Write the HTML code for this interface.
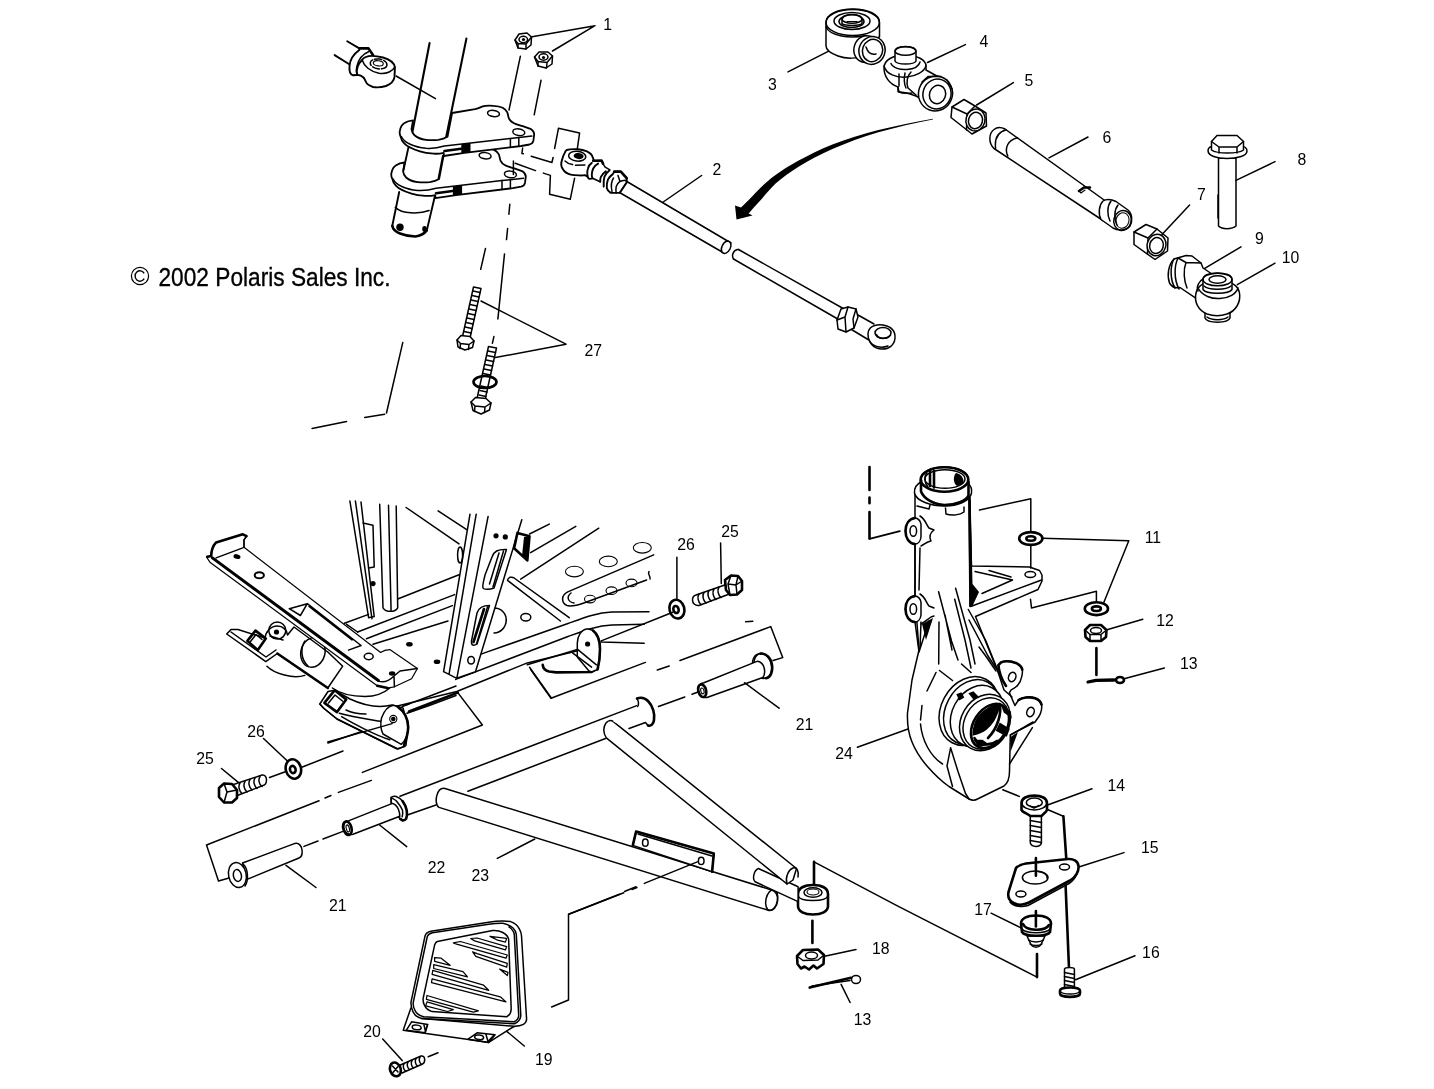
<!DOCTYPE html>
<html><head><meta charset="utf-8"><title>Parts diagram</title>
<style>
html,body{margin:0;padding:0;background:#fff;}
body{width:1434px;height:1089px;overflow:hidden;font-family:"Liberation Sans",sans-serif;}
svg{display:block;filter:grayscale(1)}
.l,.lw,.k,.kw,.d{stroke:#000;stroke-width:1.5;stroke-linecap:round;stroke-linejoin:round}
.l,.k,.d{fill:none}
.lw,.kw{fill:#fff}
.k,.kw{stroke-width:2.6}
.n{stroke:#000;stroke-width:1.1;fill:none;stroke-linecap:round}
.b{fill:#000;stroke:none}
text{font-family:"Liberation Sans",sans-serif;font-size:15.8px;fill:#000}
</style></head><body>
<svg width="1434" height="1089" viewBox="0 0 1434 1089">
<rect width="1434" height="1089" fill="#fff"/>
<g id="post">
<!-- rod end upper-left -->
<path class="l" style="stroke-width:1.9" d="M347.200,41.300 L359.300,48.400 M334.600,55.100 L349.300,64.300"/>
<path class="lw" d="M359.300,49.500 C353,54 350,60 349.500,66 C349,72 350,75 353,75.300 L357,75 L366,80 L374,55 L368.500,48.400Z" style="stroke:none"/>
<path class="l" style="stroke-width:1.9" d="M359.300,50 C353,54.500 350,60 349.500,66 C349,72 350,74.500 353,75.300 L357.200,75"/>
<path class="k" d="M359.300,48.400 L368.500,48.400 L373,55"/>
<path class="l" d="M368.500,51.800 C362,54.500 358.500,60 357,66 C356,70 356.400,73 357.200,74.600"/>
<path class="lw" d="M362,60 C366,54 375,55.500 383,57.500 C390,59.500 394.500,63 394.900,67.500 L394.500,76.900 C394,81 391,84 386,86 C381,87.500 376,87.500 373,87 C369,85.500 366.500,83.500 366,82 C365,80 364.500,78.600 363.500,77.500 C362,76 360,75 357.200,74.800 C356,70 358,64 362,60Z" style="stroke-width:1.9"/>
<path class="l" d="M362.300,60.200 C364,66 370,71.500 379,73.200 C387,74.200 393,71 394.900,66.800"/>
<ellipse class="l" cx="378.600" cy="63.900" rx="8.400" ry="4.900" transform="rotate(8 378.600 63.900)" stroke-dasharray="7 2"/>
<ellipse class="n" cx="378.300" cy="63.300" rx="5" ry="2.600" transform="rotate(8 378.300 63.300)"/>
<path class="l" d="M396.100,76 L435.500,98.600"/>
<!-- tube -->
<path class="l" style="stroke-width:2.100" d="M429.600,43 L412,134 M466.400,38.600 L446,138"/>
<!-- lower plate -->
<path class="lw" style="stroke-width:1.8" d="M443.7,155.2 L466.7,151.4 C470.6,150.5 472.6,149.2 474.4,148.6 C477.6,147.5 481.6,147.7 485.1,148.0 C488.6,148.2 491.6,148.7 494.3,149.9 C496.6,151.2 498.1,152.7 498.9,154.5 C499.6,156.2 499.6,158.2 500.5,160.6 C501.6,163.2 503.1,164.2 505.1,165.2 C507.6,166.7 510.6,167.2 514.3,168.3 L522.7,171.4 C524.6,172.7 525.8,174.2 525.8,176.7 L525.0,182.9 C524.6,185.2 523.1,186.2 521.2,186.7 L512.7,188.2 L456.0,195.1 L435.3,198.2 L435.3,195.1 C431.6,195.9 428.6,196.1 425.3,195.9 C419.6,195.5 415.6,194.9 411.5,193.6 C403.6,191.2 398.6,188.7 396.1,185.9 C393.6,183.2 392.6,181.2 392.3,179.0 C391.1,176.2 390.9,174.7 391.5,172.9 C392.1,169.2 393.6,166.7 396.1,165.2 C398.6,163.5 401.6,162.7 404.6,162.5 L403.1,171.4 C403.4,174.2 404.6,176.2 406.1,177.5 C409.1,180.2 412.6,181.5 417.6,182.1 C421.6,182.5 425.6,182.5 429.9,182.1 C433.6,181.5 436.6,180.5 439.1,179.0Z"/>
<path class="l" d="M393.1,179.0 C394.6,182.2 397.6,184.7 402.3,186.7 C406.6,188.7 411.6,189.9 417.6,190.5 C423.6,190.9 429.6,190.2 436.0,188.2 L502.0,180.6 L523.5,178.3"/>
<ellipse class="l" cx="485.1" cy="155.7" rx="6" ry="3.1" transform="rotate(8 485.1 155.7)"/>
<ellipse class="l" cx="510.4" cy="174.4" rx="6" ry="3.300" transform="rotate(8 510.4 174.4)"/>
<path class="l" d="M502.0,180.6 L502.0,189.4 M510.4,179.7 L510.4,188.4"/>
<path class="b" d="M452.9,186.4 L462.1,185.2 L462.1,194.2 L452.9,195.5Z"/>
<path class="k" d="M436.0,193.2 L452.6,191.0"/>
<!-- tube between plates -->
<path class="l" style="stroke-width:1.9" d="M408.400,147.600 L403.500,170 M442.900,156 L438.500,178.500"/>
<!-- upper plate -->
<path class="lw" style="stroke-width:1.8" d="M452.1,113.0 L475.1,109.2 C479.0,108.3 481.0,107.0 482.8,106.4 C486.0,105.3 490.0,105.5 493.5,105.8 C497.0,106.0 500.0,106.5 502.7,107.7 C505.0,109.0 506.5,110.5 507.3,112.3 C508.0,114.0 508.0,116.0 508.9,118.4 C510.0,121.0 511.5,122.0 513.5,123.0 C516.0,124.5 519.0,125.0 522.7,126.1 L531.1,129.2 C533.0,130.5 534.2,132.0 534.2,134.5 L533.4,140.7 C533.0,143.0 531.5,144.0 529.6,144.5 L521.1,146.0 L464.4,152.9 L443.7,156.0 L443.7,152.9 C440.0,153.7 437.0,153.9 433.7,153.7 C428.0,153.3 424.0,152.7 419.9,151.4 C412.0,149.0 407.0,146.5 404.5,143.7 C402.0,141.0 401.0,139.0 400.7,136.8 C399.5,134.0 399.3,132.5 399.9,130.7 C400.5,127.0 402.0,124.5 404.5,123.0 C407.0,121.3 410.0,120.5 413.0,120.3 L411.5,129.2 C411.8,132.0 413.0,134.0 414.5,135.3 C417.5,138.0 421.0,139.3 426.0,139.9 C430.0,140.3 434.0,140.3 438.3,139.9 C442.0,139.3 445.0,138.3 447.5,136.8Z"/>
<path class="l" d="M401.5,136.8 C403.0,140.0 406.0,142.5 410.7,144.5 C415.0,146.5 420.0,147.7 426.0,148.3 C432.0,148.7 438.0,148.0 444.4,146.0 L510.4,138.4 L531.9,136.1"/>
<ellipse class="l" cx="493.5" cy="113.5" rx="6" ry="3.1" transform="rotate(8 493.5 113.5)"/>
<ellipse class="l" cx="518.8" cy="132.2" rx="6" ry="3.300" transform="rotate(8 518.8 132.2)"/>
<path class="l" d="M510.4,138.4 L510.4,147.2 M518.8,137.5 L518.8,146.2"/>
<path class="b" d="M461.3,144.2 L470.5,143.0 L470.5,152.0 L461.3,153.3Z"/>
<path class="k" d="M444.4,151.0 L461.0,148.8"/>
<!-- bottom tube -->
<path class="l" style="stroke-width:1.9" d="M399.200,192 L392.300,225.800 M434.800,196.500 L426.800,230.400"/>
<path class="l" d="M395.300,207.400 C399,211 405,212.500 410.700,212.800 C418,213.200 424,212.500 429.100,210.500"/>
<path class="k" d="M392.300,225.800 C393,230 396,232 400,233.500 C405,235.500 410,236.500 415.300,236.500 C420,236 424,234 426.800,230.400"/>
<circle class="b" cx="400" cy="227.300" r="3.700"/>
<ellipse class="b" cx="424.500" cy="228.900" rx="2.300" ry="3"/>
<!-- nuts 1 -->
<path class="lw" d="M515,40 L519,34 L527,33 L531.5,37 L531,45 L526,49 L518,48Z"/>
<ellipse class="l" cx="523.3" cy="39.5" rx="4.3" ry="3.2"/>
<circle class="b" cx="523.5" cy="39.5" r="1.6"/>
<path class="l" d="M515,40 L518,43.5 L526,44 L531.5,37 M518,43.5 L518,48 M526,44 L526,49"/>
<path class="lw" d="M534.5,57 L539,52 L548,52 L552.5,56 L552,64 L546,68 L538,66Z"/>
<ellipse class="l" cx="543.5" cy="57" rx="4.5" ry="3.2"/>
<circle class="b" cx="543.5" cy="57.5" r="1.6"/>
<path class="l" d="M534.5,57 L538,61.5 L547,62.5 L552.5,56 M538,61.5 L538,66 M547,62.5 L546.5,68"/>
<path class="l" d="M595,25.7 L532,36.7 M595,25.7 L552.5,51"/>
<!-- dashes -->
<path class="l" d="M520.4,56.2 L509,110 M541,80.3 L534.2,114.8"/>
<path class="l" d="M509.800,204.300 L508.900,214.200 M507.600,228.600 L506.500,239.600 M504.500,253.900 L497.900,318.900 M485.500,248.400 L480.700,269.300 M493.900,336.600 L492.400,343.200"/>
<!-- dashed box -->
<path class="l" d="M554.600,148.500 L558.500,128.200 L579.600,132.900 L577.300,148.900 M543.300,173.100 L550.400,175.400 L549.600,194.200 L570.300,199.200 L574.600,178.200 M522.600,148.100 L521.900,153.600 L523.400,153.700 M531.200,156.300 L551.900,162.500 L553.100,157.500 M513.400,161 L513.400,174.600 M515.200,163.300 L535.500,170.600"/>
</g>
<g id="rod2">
<!-- left eye -->
<path class="lw" style="stroke-width:1.9" d="M566.700,150 C570,149 574,149 577.900,149.300 C581,149.600 584,150.300 587,151.400 C589,152.500 590.800,153.800 591.800,155.200 L594,160.500 L588,176.800 L584.900,175.100 C583,175.400 581,175.500 579.300,175.400 C576,175.300 573,175.200 570.900,174.700 C567,173.500 565,172.200 563.900,170.600 C562,168.500 561.300,167 561.200,165 C561.200,163 561.500,161 562.200,159.400 C563,156 563.800,154.500 564.600,153.100 C565.200,151.500 565.800,150.500 566.700,150Z"/>
<ellipse class="l" cx="577.200" cy="156.200" rx="8.600" ry="4.900" transform="rotate(6 577.200 156.200)"/>
<ellipse class="b" cx="578.600" cy="156" rx="5" ry="3.100" transform="rotate(6 578.600 156)"/>
<path class="l" d="M565,161 C567,163 570,164.300 572.500,164.600 M575.500,165.300 L584.900,165"/>
<!-- collar -->
<path fill="#fff" d="M593.200,160.800 L601.600,160.500 L605.100,167.100 L610,169.900 L603.700,186.600 L592.500,178.200 L589,178.900 C587,176 587,171 588,168.500Z"/>
<path class="k" d="M593.200,160.800 L601.600,160.500 L603,163.600"/>
<path class="l" style="stroke-width:1.900" d="M591.800,162.900 C589.500,164.500 588.300,166.500 588,168.500 C587.200,170.500 587.100,172.500 587.300,174.100 C587.500,176.500 588,178 589,178.900 L591.800,178.600"/>
<path class="l" style="stroke-width:1.900" d="M598.100,163.600 C595.500,165 594,166.800 593.200,168.500 C592.300,170.500 591.800,172.800 591.800,174.700 C591.800,176.300 592,177.500 592.500,178.200"/>
<path class="l" d="M603,163.600 L605.100,167.100 L610,169.900 M592.500,178.200 L600.200,181.700"/>
<path class="l" style="stroke-width:1.900" d="M605.800,171.300 C603.500,173 601.800,175 600.900,176.800 C600.300,178.500 600.100,180.300 600.200,181.700 M609.300,170.600 C607,172.500 605.300,174.800 604.400,176.800 C603.600,180 603.500,183.500 603.700,186.600"/>
<!-- jam nut -->
<path class="lw" style="stroke-width:1.900" d="M612.800,174.100 L614.200,171.600 L620.800,171.600 L626.700,178.200 L626.700,182.400 L619.700,192.900 L616.200,192.900 L610.700,192.900 C608.500,191.500 607.200,189.800 606.800,188 C606.600,185 607,182 607.900,179.600 C609,177.300 610.800,175.500 612.800,174.100Z"/>
<path class="k" d="M614.200,171.600 L620.800,171.600 L626.700,178.200"/>
<path class="l" d="M625.300,180.300 C623,180.500 621,181 619.700,181.700 C618,183 616.800,184.700 616.200,186.600 C615.800,188.700 615.900,191 616.200,192.900 M613.500,178 C611.500,181 610.800,186 612,191.500 M618,175.500 L620,181.500"/>
<!-- rod -->
<path class="l" d="M626,181 L731,243 M619.5,192.5 L723,252.5"/>
<path class="lw" d="M727,241 C731,241 732,245 730,249 C728,253 724,255 722,252 C720,249 723,242 727,241Z"/>
<path class="l" d="M738.5,249.5 L845,309.5 M733.5,259 L839.5,320"/>
<path class="l" d="M738.5,249.5 C734,249 731,255 733.5,259"/>
<!-- right nut -->
<path class="lw" d="M841,309 L848,307 L856,309 L858,317 L854,328 L846,332 L838,329 L837,320Z"/>
<path class="l" d="M848,307 L845,317 L846,332 M845,317 L837,320 M856,309 L853,319 L854,328"/>
<path class="l" d="M858,315 L874,324 M851.5,329.5 L868,339.5"/>
<!-- right eye -->
<path class="lw" d="M868,334 C868,327 875,323.5 883,325 C891,326.5 895.5,331 895,338 C894.5,345 889,349.5 881,349 C873,348.5 868,342 868,334Z"/>
<ellipse class="l" cx="883" cy="333" rx="8" ry="5.5"/>
<path class="l" d="M876.5,334.5 C878,339 887,340 890.5,335"/>
<path class="l" d="M869,340 C872,346 880,349 888,346"/>
<!-- leader 2 -->
<path class="l" d="M701.6,175.5 L663.2,202"/>
</g>
<g id="arrow">
<path class="b" d="M932.900,118.800 C915,122 896,126 878.400,129.900 C862,134 847,139 832.400,144.500 C820,149.500 809,155 798.600,160.600 C789,166 781,171 774.100,176 C765,183 758,190 752.600,195.900 C747,201.500 743,205.500 740.300,208.200 L748,214.300 C752,209.500 756,205 760.300,200.500 C765,195 770,189 775.600,183.600 C783,177.500 790,172 798.600,166.800 C809,160.500 820,154.500 832.400,149.100 C847,142.500 862,137 878.400,132.200 C896,127.500 915,123 932.900,119.600Z"/>
<path class="b" d="M735,205.500 L736.500,219.500 L752.500,215.500 L745,211.500 L741,207.500Z"/>
</g>
<g id="bolts27">
<path class="l" d="M566,344.2 L481,301 M566,344.2 L495.5,357.5"/>
<path class="lw" d="M473.5,287 L481,288.5 L470,338 L462.5,336.5Z"/>
<path class="l" d="M473,291 L480,292.5 M472,295.5 L479,297 M471,300 L478,301.5 M470,304.5 L477,306 M469,309 L476,310.5 M468,313.5 L475,315 M467,318 L474,319.5 M466,322.5 L473,324 M465,327 L472,328.5 M464,331.5 L471,333"/>
<path class="lw" d="M457,340 L461,335.5 L470,336.5 L474,341 L472.5,347.5 L465,350 L458,347Z"/>
<path class="l" d="M457,340 L460.5,343.5 L469,344.5 L474,341 M460.5,343.5 L460,348.5 M469,344.5 L468.5,349.5"/>
<path class="lw" d="M488.5,346.5 L496.5,348 L485,400 L477,398.5Z"/>
<path class="l" d="M488,351 L495.5,352.5 M487,355.5 L494.5,357 M486,360 L493.5,361.5 M485,364.5 L492.5,366 M484,369 L491.5,370.5 M483,373.5 L490.500,375 M481,386 L488,387.5 M480,390.500 L487,392 M479,395 L486,396.500"/>
<ellipse class="k" cx="485" cy="382" rx="11.500" ry="6"/>
<path class="lw" d="M471,402 L475.500,397.500 L486,398.500 L491,403 L489.500,410 L481,414 L473,410.500Z"/>
<path class="l" d="M471,402 L475,406 L485,407 L491,403 M475,406 L474.500,411.500 M485,407 L484.500,412.500"/>
</g>
<g id="dashes-left">
<path class="l" d="M402.800,342.400 L386.500,413 M384.700,414.200 L364.700,417.500 M346.600,421.500 L312.100,428.400"/>
</g>
<g id="p3">
<path class="lw" d="M826,22.500 C826,14 838,9 853,9 C868,9 879.500,14.500 879.500,22.500 L879.500,37 L865,42 L864,55 C858,59 846,59 838,56 C830,53 826,50 826,46Z"/>
<ellipse class="l" cx="852.700" cy="22.500" rx="26.700" ry="13"/>
<path class="l" d="M826,27 C830,36 850,39 866,35.500"/>
<ellipse class="l" cx="852" cy="21" rx="18" ry="8.500"/>
<ellipse class="l" cx="851.500" cy="21.500" rx="12.500" ry="6"/>
<path class="lw" d="M842,20 C842,16 847,14.500 852,14.500 C857,14.500 862,16 862,20 L862,23.500 C860,26 844,26 842,23.500Z"/>
<ellipse class="l" cx="852" cy="19" rx="10" ry="4.300"/>
<path class="n" d="M847,21.500 L857,21.500"/>
<ellipse class="lw" cx="866" cy="49" rx="12" ry="13.500" transform="rotate(20 866 49)"/>
<ellipse class="lw" cx="872" cy="50.500" rx="13" ry="14" transform="rotate(20 872 50.500)"/>
<ellipse class="l" cx="872.500" cy="50.500" rx="10" ry="11.300" transform="rotate(20 872.500 50.500)"/>
<path class="l" d="M866,47 C868,53 872,55 876,54"/>
<path class="l" d="M788,71.900 L828.200,51.300"/>
</g>
<g id="p4">
<path class="lw" d="M884,68 C884,60 893,55 905,55 C917,55 926,60 926,66 L926,70 L944,80 L934,106 L916,96 C910,94 905,92 899,92 L898,87 C889,84 884,76 884,68Z"/>
<path class="l" d="M884,66 C886,74 896,78 907,77 C916,76 924,72 926,66"/>
<path class="l" d="M891,63.500 C893,68 900,70 907,69.500 C914,69 919,66 920,62"/>
<path class="lw" d="M895,52 C895,48 900,46.500 905.500,46.500 C911,46.500 916,48 916,52 L916,61 C914,65 897,65 895,61Z"/>
<ellipse class="l" cx="905.500" cy="51" rx="10.500" ry="4.200"/>
<path class="l" d="M899,74 L899,86 M905,73 C904,78 904,84 906,88"/>
<path class="l" d="M898,87 L898,91.500 C902,93.500 908,93.500 912,93"/>
<path class="l" d="M911,72 C907,76 906,83 908,88 L916,95"/>
<ellipse class="lw" cx="935.500" cy="93.500" rx="17" ry="17.500" transform="rotate(20 935.500 93.500)"/>
<path class="l" d="M922,82 L928,76.500 L941,76.500 M947,80 L952,89"/>
<ellipse class="l" cx="937" cy="94" rx="14" ry="15" transform="rotate(20 937 94)"/>
<ellipse class="l" cx="937.500" cy="94.500" rx="8" ry="9.300" transform="rotate(20 937.500 94.500)"/>
<path class="l" d="M965.400,44.600 L927.500,62.500"/>
</g>
<g id="p5">
<path class="lw" d="M952,107 L964,99.500 L975,106 L986,113 L986.500,126 L972,134 L951,117.500Z"/>
<path class="l" d="M952,107 L967,114 L975,106 M967,114 L966.500,130"/>
<ellipse class="lw" cx="975.500" cy="120" rx="9.500" ry="11" transform="rotate(15 975.500 120)"/>
<ellipse class="l" cx="975.500" cy="120.500" rx="7" ry="8.200" transform="rotate(15 975.500 120.500)"/>
<path class="l" d="M1013.400,82.600 L976.600,105"/>
</g>
<g id="p6">
<path class="lw" d="M1005,129 L1116,208.500 L1103,220.500 L994,148.500 C988,143 989,133 994,129.500 C997,127 1001,127 1005,129Z"/>
<path class="l" d="M1006.100,129.700 C998,132 994.500,139 995.600,148.200 M1017.400,137.700 C1008,140 1004,148 1007.800,156.100"/>
<path class="l" d="M1088,137 L1049,157.800"/>
<path class="k" d="M1079,191 L1084,187.500 L1090,187.500"/>
<path class="n" d="M1079,191 L1081,193 L1085,190"/>
<path class="lw" d="M1103,201 C1099,205 1098,214 1101,219.500 L1113,228 C1118,231 1126,231 1130,226 C1133,221 1132,213 1128,210 L1116,201.500 C1111,199 1106,199 1103,201Z"/>
<path class="l" d="M1111,201 C1107,206 1107,215 1110,221 M1118,205 C1114,210 1114,219 1117,225"/>
<ellipse class="l" cx="1122.500" cy="220.500" rx="8.700" ry="10" transform="rotate(15 1122.500 220.500)"/>
<ellipse class="n" cx="1122.500" cy="220.500" rx="6.500" ry="7.800" transform="rotate(15 1122.500 220.500)"/>
</g>
<g id="p7">
<path class="lw" d="M1134,232 L1146,224.500 L1157,229 L1168,238 L1167.500,251 L1155,259.500 L1134,244.500Z"/>
<path class="l" d="M1134,232 L1148,238 L1157,229 M1148,238 L1147.500,254"/>
<ellipse class="lw" cx="1156.500" cy="245" rx="9.300" ry="10.800" transform="rotate(15 1156.500 245)"/>
<ellipse class="l" cx="1156.500" cy="245.500" rx="6.800" ry="8" transform="rotate(15 1156.500 245.500)"/>
<path class="l" d="M1189.600,205 L1162,234.400"/>
</g>
<g id="p8">
<path class="lw" d="M1218.500,158 L1236,158 L1236,226 C1232,229.500 1222,229.500 1218.500,226Z"/>
<path class="l" d="M1218,195 L1218,218"/>
<path class="lw" d="M1208,150.500 C1208,147 1212,146 1216,146 L1240,146 C1244,146 1247,148 1247,151 C1247,156.500 1236,158.500 1227,158.500 C1217,158.500 1208,156 1208,150.500Z"/>
<path class="lw" d="M1211.500,141.500 L1217,135.500 L1237,135.500 L1243.500,141.500 L1243.500,150 C1238,154 1217,154 1211.500,150Z"/>
<path class="l" d="M1211.500,141.500 L1219,147 L1237,147 L1243.500,141.500 M1219,147 L1219,153 M1237,147 L1237,153"/>
<path class="l" d="M1275,161.600 L1236,180.400"/>
</g>
<g id="p9">
<path class="lw" d="M1174,259 L1186,255.500 L1192,256 L1201,263 L1203,268 L1215,276 L1206,298 L1195,297.700 L1180,287.500 C1176,288.500 1172,287 1169.500,283 C1167,276 1168,265 1174,259Z"/>
<path class="l" d="M1174,259 C1170,266 1170,280 1175,288 M1178,258 C1174,266 1174,280 1179,289"/>
<path class="l" d="M1178,258 L1186,262.500 L1201,263 M1186,262.500 C1183,270 1184,281 1187,288"/>
<path class="l" d="M1241,246.900 L1204.700,268.300"/>
</g>
<g id="p10">
<path class="lw" d="M1205,310 L1230,310 L1230,318 C1228,323.500 1207,323.500 1205,318Z"/>
<path class="l" d="M1207,317 C1211,320.500 1224,320.500 1228,317"/>
<path class="lw" d="M1196,293 C1198,284 1207,281 1218,281 C1229,281 1238,284 1239.500,293 C1241,302 1236,311 1227,314 C1221,316 1213,316 1207,314 C1198,310 1194,302 1196,293Z"/>
<path class="l" d="M1198,288 C1202,296 1212,299 1220,298.500 C1229,298 1236,294 1238,288"/>
<path class="lw" d="M1203,279.500 C1203,275 1210,273 1217.500,273 C1225,273 1232,275 1232,279.500 L1232,289.500 C1229,294.500 1206,294.500 1203,289.500Z"/>
<ellipse class="l" cx="1217.500" cy="279.500" rx="14.500" ry="6.300"/>
<ellipse class="l" cx="1217.500" cy="279.500" rx="8.500" ry="3.700"/>
<path class="l" d="M1204,286 C1208,290 1226,290.500 1231,286"/>
<path class="l" d="M1198,291 C1196,287 1199,281 1203,279"/>
<path class="l" d="M1275,263.200 L1237.300,284.600"/>
</g>
<g id="knuckle">
<!-- column & body outline -->
<path class="lw" d="M921,480 L915,494 L915,520 L915,543 L915,596 L919,650 L912,680 L907.500,713 C907,726 909,735 912,742 C916,752 921,759 927,766 C934,774 941,781 949,786.500 L969,799 C972,800.500 975,800.500 977.500,799 L1004,786 C1008,783 1009.500,778 1009.500,771.500 L1010.300,734.900 L1035.100,722 C1038.500,717 1040.300,715 1040.600,712.900 C1042,709 1042,707 1041.500,704.600 C1039.500,700.500 1037.500,699 1035.100,698.200 C1031.500,697 1028.500,696.800 1025.900,697.200 C1022.500,698 1020.500,698.800 1018.600,700 L1014.900,705.500 L1009.400,692.700 L1011.200,689.900 C1014.500,688.500 1016.300,687 1017.700,685.300 C1020,682.500 1021,680.500 1021.300,678 C1022.500,674.500 1022.600,672 1022.300,669.700 C1020.500,666 1019,664.300 1016.700,663.300 C1013,661.500 1010,661 1007.600,661.100 C1004.500,661.300 1002.500,661.700 1001.100,662.400 L998.400,665.100 L998,672 L985,640 L975.500,616.500 L1038,589.500 L1042,581 L1042,575 L1039.500,570.500 L1029.500,567 L971.500,566 L969,483Z"/>
<!-- top ring -->
<path class="lw" d="M914.500,493 C914,487 917,484 921,482 L921,479 C921,472 931,467 944.500,467 C958,467 968.500,472 968.500,480 L968.500,484 C971,486 972,489 971.500,493 C970,501 958,506 944.500,506 C931,506 916,501 914.500,493Z"/>
<ellipse class="k" cx="944.500" cy="479.500" rx="23.800" ry="12.300"/>
<ellipse class="l" cx="945" cy="479" rx="20" ry="9.300"/>
<path class="k" d="M921,480 L921,491.500 C924,499 934,504.500 944.500,505 C956,505 966,501 968.500,495.500 L968.500,482"/>
<path class="b" d="M956,473 C961,474 964,478 963.500,483 L957,486 C953,483 953,476 956,473Z"/>
<path class="k" d="M930,470 L930,486 M934,471 L934,487.500"/>
<path class="l" d="M927,473 C924,476 924,483 928,487"/>
<path class="l" d="M917,506 L929,509 L930,505 M945.500,508 L946,514 C952,516 960,515 964,512 L964,507"/>
<!-- right heavy edge -->
<path d="M968.300,500 L970.700,500 L972.500,584 L979,592 L972,607 L969.500,607Z" class="b"/>
<path class="k" d="M969.500,498 L970.500,606"/>
<!-- lugs -->
<path class="lw" d="M915,518 C909,519 905.500,524 905.500,531 C905.500,538 909,543.500 915,544 C918,544 920.500,541 921,537 L921,524 C920.500,521 918,518 915,518Z"/>
<path class="k" d="M915,518 C909,519 905.500,524 905.500,531 C905.500,538 909,543.500 915,544"/>
<ellipse class="l" cx="913.300" cy="531" rx="3.300" ry="5.300"/>
<path class="l" d="M920,516 C925,519 926,524 929,528 L934,530 M934,530 C930,533 929,537 931,541 M921,546 C925,544 928,541 931,541"/>
<path class="lw" d="M915,596 C909,597 905.500,602 905.500,609 C905.500,616 909,621.500 915,622 C918,622 920.500,619 921,615 L921,602 C920.500,599 918,596 915,596Z"/>
<path class="k" d="M915,596 C909,597 905.500,602 905.500,609 C905.500,616 909,621.500 915,622"/>
<ellipse class="l" cx="913.300" cy="609" rx="3.300" ry="5.300"/>
<path class="l" d="M920,594 C925,597 926,602 929,606 L934,608 M921,624 C925,622 928,619 931,617 L934,616"/>
<path class="l" d="M915,544 L915,596 M920,548 L919,590"/>
<path class="b" d="M922,624 L933,618 L926,640Z"/>
<path class="l" d="M915,622 L919,652 M921,622 L920,648 M929,621 L919,652"/>
<!-- steering arm -->
<path class="l" d="M1041.500,580 L972,606"/>
<path class="l" d="M975,571.500 L1012.500,580 L982,593.500 M989,570.500 L1011,577"/>
<ellipse class="l" cx="1030.300" cy="574.400" rx="5.300" ry="3"/>
<!-- neck -->
<path class="l" d="M938.600,591.700 L951.500,641 L958,660 M955.600,588.300 L970,640 L975,664 M954.700,599.300 L965,640 L971,668 M968.300,609.500 L985.500,640 L998,671 M939,622 L938.700,664 M945,615 L952,650"/>
<path class="l" d="M969,620 L988,656 L996,668 M979,647 L985,655 L996,671"/>
<!-- dashes on body -->
<path class="l" d="M927,691 L936,672.500 M939.500,670.500 L952.500,680.500 M961.500,664 L971,672.500 M922,705.500 L920.500,720 M920.500,724 C922,740 930,756 942.500,764"/>
<path class="l" d="M950.600,747.800 L947,766 L952.500,786.500 M950.600,747.800 L958,771.500 L965.500,793.500 L969,799"/>
<!-- hub -->
<ellipse class="lw" cx="969" cy="711" rx="28" ry="36" transform="rotate(28 969 711)"/>
<ellipse class="l" cx="971.500" cy="712" rx="26" ry="34" transform="rotate(28 971.500 712)"/>
<ellipse class="lw" cx="977" cy="716" rx="25" ry="32" transform="rotate(28 977 716)"/>
<ellipse class="lw" cx="985" cy="722.500" rx="24" ry="29.500" transform="rotate(30 985 722.500)"/>
<ellipse class="l" cx="986" cy="723.500" rx="21.500" ry="27" transform="rotate(30 986 723.500)"/>
<ellipse class="kw" cx="990" cy="726" rx="16.500" ry="24" transform="rotate(33 990 726)"/>
<path class="b" d="M972.400,735.800 C972.500,730 973.500,725 975.500,720.600 C978,715 982,711 986.600,708.500 C990,706 994,704 998.700,703.400 L1000.700,705.500 C999,711 997,716 994.600,720.600 C992,724.500 989.500,727.500 986.600,729.700 C983,732.500 978,734.500 974.400,735.300Z"/>
<path class="k" d="M999.500,704 C1002,712 998,728 988,738 M974.500,738 C978,745 990,746.500 997,741"/>
<path class="b" d="M999.700,722.600 L1009.800,728.700 L1006.800,736.800 L995.700,730.700Z M973.400,739.800 L982.500,739.800 L989.600,744.800 L978.500,746.900Z M1000.700,704.400 L1010.800,711.500 L1011.800,718.600 L1003.700,712.500Z"/>
<path class="b" d="M956.300,694.300 L961.300,692.300 L964.300,697.400 L959.300,700.400Z M968.400,693.300 L973.400,691.300 L978.500,696.400 L973.400,699.400Z"/>
<!-- right lugs -->
<ellipse class="l" cx="1012.200" cy="677" rx="3.600" ry="4.800" transform="rotate(20 1012.200 677)"/>
<ellipse class="l" cx="1030.500" cy="712" rx="3.600" ry="4.800" transform="rotate(20 1030.500 712)"/>
<path class="k" d="M998.400,665.100 L1001.100,662.400 C1004,661.200 1010,660.800 1016.700,663.300 C1020,665 1022,667.500 1022.300,669.700 M1018.600,700 C1022,697.500 1030,696.500 1035.100,698.200 C1038.500,699.500 1041,702 1041.500,704.600 M998.400,665.100 C999,672 1002,680 1006,686"/>
<path class="l" d="M1010.500,735 L1033,722 M1009.500,764 L1032.400,727.600"/>
<path class="b" d="M1010.500,737 L1018,732 L1010.500,752Z"/>
<path class="l" d="M998,672 L1004,690 L1012,697"/>
</g>
<g id="knuckle-leaders">
<path class="k" d="M869.500,467 L869.500,490 M869.500,497.500 L869.500,503.300 M869.500,512 L869.500,538.500"/>
<path class="l" style="stroke-width:1.800" d="M869.500,538.800 L899.800,531.200"/>
<path class="l" d="M979.500,510 L1030.800,498.800 L1030.800,532 M1030.800,546 L1030.800,568"/>
<ellipse class="kw" cx="1030.800" cy="538.500" rx="11.600" ry="6.400"/>
<ellipse class="k" cx="1030.800" cy="538.500" rx="4.500" ry="2.300"/>
<path class="l" d="M1030.500,599.300 L1031.500,608 L1096.400,591.300 L1096.400,601.700"/>
<ellipse class="kw" cx="1096.400" cy="608.700" rx="11.600" ry="6.400"/>
<ellipse class="k" cx="1096.400" cy="608.700" rx="4.500" ry="2.300"/>
<path class="l" d="M1128.800,540.700 L1042.300,538.300 M1128.800,540.700 L1103.400,603.500"/>
<!-- nut 12 -->
<path class="kw" d="M1085,630 L1090,625 L1101,625 L1106.500,630 L1106,637 L1101,641 L1090,641 L1085.500,637Z"/>
<ellipse class="l" cx="1096" cy="630.500" rx="5.500" ry="3"/>
<path class="l" d="M1085,630 L1090,634.500 L1101,634.500 L1106.500,630 M1090,634.500 L1090,641 M1101,634.500 L1101,641"/>
<path class="l" d="M1142.800,619.200 L1107,629.700"/>
<path class="k" d="M1096.400,648.100 L1096.400,675"/>
<path class="k" style="stroke-width:3.300" d="M1088,682 L1096,680.300 L1114,680"/>
<ellipse class="k" cx="1120" cy="680" rx="4" ry="3"/>
<path class="l" d="M1164.400,668 L1125,678.500"/>
<path class="l" d="M857.400,747.200 L908,729"/>
</g>
<g id="p14">
<path class="lw" d="M1030.300,815 L1041.400,815 L1041.400,843 C1040,847.500 1032,847.500 1030.300,843Z"/>
<path class="l" d="M1030.300,820.500 L1041.400,822.500 M1030.300,825.500 L1041.400,827.500 M1030.300,830.500 L1041.400,832.500 M1030.300,835.500 L1041.400,837.500 M1030.300,840.500 L1041.400,842.500"/>
<path class="kw" d="M1021.500,803 C1021.500,798 1027,795.500 1034.300,795.500 C1041.600,795.500 1047,798 1047,803 L1047,810 C1046,812.500 1043,814 1041.500,816 L1030.300,816 C1028,814 1023,812.500 1021.500,810Z"/>
<ellipse class="l" cx="1034.300" cy="803" rx="12.500" ry="7"/>
<ellipse class="l" cx="1034.300" cy="802.500" rx="8" ry="4.500"/>
<path class="l" d="M1030,806 L1034,808 L1039,805.500"/>
<path class="l" d="M1092,788.700 L1046.900,805.300"/>
<path class="l" d="M1048,809.700 L1063.400,816.300"/>
<path class="k" d="M1063.400,816.300 L1066.700,864.800"/>
<path class="l" d="M1002.800,789.800 L1019.300,796.400"/>
</g>
<g id="p15">
<path class="kw" d="M1016,868 C1019,865 1022,864 1026,863.500 L1068,859 C1073,858.500 1078,861 1078.500,866 C1079,871 1076,877 1070,880.500 L1029,902.500 C1024,905 1018,905.500 1013.500,903 C1009,900.500 1007.500,897 1008.500,892 Z"/>
<path class="l" d="M1077.500,872 C1076,877 1073,881 1069,883.500 L1028,905.500 C1022,907.500 1014,907 1010,902"/>
<ellipse class="l" cx="1035.200" cy="877.500" rx="12.800" ry="6.600"/>
<path class="l" d="M1038,871.500 C1044,872 1048,875 1047,878"/>
<ellipse class="l" cx="1064.500" cy="867" rx="5" ry="3"/>
<ellipse class="l" cx="1020.900" cy="894.100" rx="5" ry="3"/>
<path class="k" d="M1035.900,858.100 L1035.900,875.800"/>
<path class="l" d="M1124,852.600 L1078.800,867"/>
</g>
<g id="p17">
<path class="lw" d="M1027,936 L1045,936 L1041,944.500 C1039,948 1033,948 1031,944.500Z"/>
<path class="l" d="M1028.500,940 C1032,942.500 1040,942.500 1043.500,940 M1030,944 C1033,946 1039,946 1042,944"/>
<path class="kw" d="M1021,923.500 C1021,918.500 1027,915.500 1036,915.500 C1045,915.500 1051,918.500 1051,923.500 L1050,932 C1047,937 1025,937 1022,932Z"/>
<path class="k" d="M1023,924 C1026,931 1045,932 1049,925"/>
<path class="l" d="M1022,929 C1026,934 1046,934 1050,929"/>
<path class="k" d="M1035.900,911 L1035.900,926.500"/>
<path class="l" d="M991.100,913.200 L1020.400,927.600"/>
<path class="k" d="M1037,954 L1037,977.100"/>
<path class="l" d="M814,861.900 L897.400,905.900 L940,927.600 L1037,977.100"/>
</g>
<g id="p16">
<path class="k" d="M1065.600,885.700 L1068.900,966.100"/>
<path class="lw" d="M1064.500,969 C1065.500,967 1073.500,967 1074.400,969 L1074.400,989 L1064.500,989Z"/>
<path class="l" d="M1064.500,972.500 L1074.400,974.500 M1064.500,976.500 L1074.400,978.500 M1064.500,980.500 L1074.400,982.500 M1064.500,984.500 L1074.400,986.500"/>
<path class="kw" d="M1060,990.500 C1060,986.500 1080,986.500 1080,990.500 L1080,993.500 C1080,998 1060,998 1060,993.500Z"/>
<path class="l" d="M1060,991 C1062,995 1078,995 1080,991"/>
<path class="l" d="M1135,955.800 L1075.500,979.800"/>
</g>
<g id="p18">
<path class="k" d="M814,861.900 L814,886.700"/>
<path class="kw" d="M798,894 C798,888 804.500,885 813,885 C821.500,885 828,888 828,894 L828,906 C828,911.500 821.500,914.500 813,914.500 C804.500,914.500 798,911.500 798,906Z"/>
<path class="l" d="M798,896 C800,902 826,902 828,896"/>
<ellipse class="l" cx="813" cy="892.500" rx="9" ry="4.800"/>
<ellipse class="n" cx="813" cy="892" rx="6" ry="3"/>
<path class="k" d="M812.400,920.800 L812.400,943"/>
<path class="kw" d="M797,956 L803,950 L818,949.500 L824,955 L823.500,964 L817,968.500 L813.500,965.500 L809,969.500 L804.500,966.500 L801,968.500 L797.500,964Z"/>
<ellipse class="l" cx="811.500" cy="955.500" rx="6" ry="3.400"/>
<path class="l" d="M797,956 L803,960.500 L818,960 L824,955"/>
<path class="l" d="M856,949.600 L824.600,956.200"/>
<path class="k" d="M809.700,987.600 L851,977.700"/>
<path class="l" d="M812,986 L850,980.500"/>
<ellipse class="l" cx="856" cy="979.500" rx="4.500" ry="4"/>
<path class="l" d="M841.100,984.300 L850.100,1002.500"/>
</g>
<g id="aarm">
<!-- pivot tube long lines -->
<path class="l" d="M400,796.200 L637.500,705.400"/>
<path class="l" d="M407.300,815 L436,805 M467.900,791.200 L605.500,738.500"/>
<!-- lower tube 23 -->
<path class="lw" d="M445,788.500 L771.700,890 C776,891 778,896 777.500,901 C777,907 773,911 769,910.500 L439,807.400 C436,806 435.500,799 437,795 C438.500,790 441,787.500 445,788.500Z"/>
<ellipse class="l" cx="771.700" cy="900" rx="5.800" ry="10.500" transform="rotate(12 771.700 900)"/>
<!-- stub tube -->
<path class="lw" d="M758.400,868.500 L798.100,886.700 L798.100,901.600 L755.100,881.800 C752,879 754,870 758.400,868.500Z"/>
<!-- upper diagonal tube -->
<path class="lw" d="M613,721.300 L796.500,868.500 L793,880 L787,884 L606.300,737.900 C603,733 603,727 606,723 C608,720.500 611,720 613,721.300Z"/>
<path class="l" d="M787,884 C785,878 788,870 793,868 C797,867 799,871 798,877"/>
<!-- flange of pivot tube -->
<path fill="#fff" d="M637,699 C641,697 645,698 648,701 C653,706 655,714 654,720 C653.500,724 651,726.500 648,726 L646,722 L627,729 L613,721.300 L637,706.500Z"/>
<path class="k" d="M637,698.500 C641,697 645,698 648,701 C653,706 655,714 654,720 C653.500,724 651,726.500 648,725.500"/>
<path class="l" d="M637,698.500 C639,702 638.500,705 637.700,706.500 M648,725.500 L645.500,722.500 L629,728.500"/>
<!-- plate -->
<path class="lw" d="M632.800,845.400 L636.100,831.500 L713.800,853.600 L712.100,871.800Z"/>
<path class="k" d="M632.800,845.400 L636.100,831.500 L713.800,853.600 L712.100,871.800"/>
<path class="l" d="M638,834 L712,856"/>
<ellipse class="l" cx="645.300" cy="842.700" rx="2.800" ry="3.600"/>
<ellipse class="l" cx="701.200" cy="860.900" rx="2.800" ry="3.600"/>
<!-- leader/dash -->
<path class="l" d="M697.300,861.900 L644.300,883.400 M636,886.700 L624.500,891.500 M619.500,894.300 L568.500,914.200 L568.500,1000 L551.600,1007"/>
<!-- sleeve 22 -->
<path class="lw" d="M391.100,797.400 C393,796.300 394.500,796.200 396.100,796.500 C399,797.500 401,799 402.500,801.100 C405,804.500 406.300,807.500 406.700,810.300 C407.300,814 407,816.500 406.200,818.600 C405.300,820 404,820.500 402.500,820.400 L399.800,818.600 L394,810 L391.100,803Z"/>
<path class="k" d="M402.500,801.100 C405,804.500 406.300,807.500 406.700,810.300 C407.300,814 407,816.500 406.200,818.600 C405.300,820 404,820.500 402.500,820.400 L400.200,818.900"/>
<path class="l" d="M392.400,798.400 C395,799.500 396.800,801 398,803 C400.500,806 401.800,808.500 402.500,810.300 C403,813 402.700,815 402.100,816.700"/>
<path class="lw" d="M348.400,820.900 L392.400,803.400 C395,804 397,806 398.300,809 C399.500,812 399.900,814.500 399.800,816.300 L353,834.200 C349,835 345,833 343.800,828.500 C343.200,824.500 345,821.500 348.400,820.900Z"/>
<path class="l" d="M391.100,797.400 L391.400,803.500"/>
<ellipse class="k" cx="347.400" cy="828.200" rx="4.100" ry="7" transform="rotate(-15 347.400 828.200)"/>
<ellipse class="n" cx="347.800" cy="828.400" rx="1.500" ry="3.600" transform="rotate(-15 347.800 828.400)"/>
<path class="l" d="M379.600,825 L406.700,846.600"/>
<path class="l" d="M304,846.400 L318,841 M323,839 L343,831.400"/>
<!-- pin 21 lower -->
<path class="lw" d="M242.500,863 L295,843.400 C299,842.500 301.500,846 302,850 C302.500,854 301.500,857 299,858 L247,879.400Z"/>
<ellipse class="lw" cx="237.400" cy="875" rx="8.800" ry="12.600" transform="rotate(-12 237.400 875)"/>
<ellipse class="l" cx="237.400" cy="875.500" rx="4" ry="6" transform="rotate(-12 237.400 875.500)"/>
<path class="l" d="M243,864 C248,868 249,880 245,886"/>
<path class="l" d="M286,865.300 L316,887.500"/>
<!-- long center dashes / bracket lower-left -->
<path class="l" d="M371.400,780.400 L338.400,792.400 M331,795.500 L325,798 M319,800.800 L206.500,845 L218.500,881 L229,878"/>
<path class="l" d="M457.800,692.600 L482.400,725 L362.400,772.400"/>
<!-- pin 21 upper -->
<ellipse class="lw" cx="761.300" cy="666.200" rx="8.600" ry="12.500" transform="rotate(-14 761.300 666.200)"/>
<ellipse class="lw" cx="762.800" cy="665.800" rx="8.600" ry="12.500" transform="rotate(-14 762.800 665.800)"/>
<path class="k" d="M760.500,653.600 C766,653 771,658 772,665 C773,672 770.500,677.500 766,678.300"/>
<path class="lw" d="M703.900,682.700 L756.900,661.400 C760,661 763.500,664 764.300,668.500 C765,672 764.500,675.500 762.800,677.500 L707,697.500 C703,698 699.500,696 698.500,691 C698,687 699.500,683.500 703.900,682.700Z"/>
<ellipse class="k" cx="702.200" cy="690.700" rx="3.900" ry="6.500" transform="rotate(-15 702.200 690.700)"/>
<ellipse class="n" cx="702.400" cy="690.900" rx="1.600" ry="3" transform="rotate(-15 702.400 690.900)"/>
<path class="l" d="M744.500,682.700 L779.100,708.200"/>
<path class="l" d="M658.500,706.500 L684.800,697 M692,694.300 L698,692"/>
<!-- dashed bracket upper -->
<path class="l" d="M680,660.500 L770.700,626.600 L782.700,657.600 L773.100,660.500 M657.300,670 L669.200,666 M551,698.200 L645.400,662.400 M530.700,669.500 L551,698.200 M745.600,621.800 L752.800,621.300"/>
</g>
<g id="p25-26">
<!-- upper right washer+bolt -->
<path class="l" d="M676.900,557.300 L676.900,599.100 M720.600,543 L721.300,583.600"/>
<ellipse class="kw" cx="676.900" cy="609.100" rx="7.400" ry="9.500" transform="rotate(-15 676.900 609.100)"/>
<ellipse class="k" cx="676" cy="609.500" rx="2.600" ry="3.600" transform="rotate(-15 676 609.500)"/>
<path class="lw" d="M696,595 L729,583.500 L732,593 L699,605.500 C695,606 692.500,603 692.500,600 C692.500,597.500 694,595.500 696,595Z"/>
<path class="l" d="M699,594 C697,597 698,602 701,604.500 M704,592.500 C702,595.500 703,600.500 706,603 M709,590.500 C707,593.500 708,598.500 711,601 M714,589 C712,592 713,597 716,599.500 M719,587 C717,590 718,595 721,597.500"/>
<path class="kw" d="M725,580 L731,575.500 L738,576 L742,581 L742,590 L737,594.500 L730,595 L726,590Z"/>
<path class="l" d="M731,575.500 L728,584 L730,595 M738,576 L736,585 L737,594.500 M728,584 L736,585 L742,581"/>
<path class="l" d="M601.200,640.900 L672.800,612.200 M601.200,642 L644.200,643.300"/>
<!-- lower left -->
<path class="l" d="M263.500,738.500 L289,762.500 M221.500,768.500 L239.500,783.400"/>
<ellipse class="kw" cx="293.400" cy="769" rx="7.600" ry="9.800" transform="rotate(-15 293.400 769)"/>
<ellipse class="k" cx="292.800" cy="769.500" rx="2.800" ry="3.700" transform="rotate(-15 292.800 769.500)"/>
<path class="lw" d="M232,785 L262,775 C265,774.500 266.500,777 266.500,780 C266.500,783 265,785 263,785.500 L236,796Z"/>
<path class="l" d="M240,783 C238,786 239,791 242,793.500 M245,781.500 C243,784.500 244,789.500 247,792 M250,779.500 C248,782.500 249,787.500 252,790 M255,778 C253,781 254,786 257,788.500 M260,776.500 C258,779.500 259,784.500 262,786.500"/>
<path class="kw" d="M219,788 L224,783.500 L232,784 L237,790 L237,798 L232,802.500 L224,802.500 L219,797Z"/>
<path class="l" d="M224,783.500 L227,792 L224,802.500 M227,792 L237,790"/>
<path class="l" d="M269.500,777.500 L286,771.500 M302.400,767 L343,751 M328,743 L394,720.500"/>
</g>
<g id="skid">
<path class="l" d="M534.800,839 L497.300,858.400"/>
<path class="lw" d="M410.900,1008 L403.200,1030.200 L466.800,1039.200 L488.700,1042.400 L513.100,1027 L521,1024Z"/>
<path class="lw" d="M425.100,935.700 C426,933 428,931.800 430.900,931.200 L488.700,922.200 C494,921.300 499,920.800 502.800,920.900 L510.600,921.600 C515,923 518,926 519.600,929.300 C520.800,931.500 521.300,933.500 521.500,935.700 L526.600,1019.300 C526.500,1021.500 525.300,1023.300 523.400,1024.400 C521,1025.800 518,1026.300 514.400,1026.300 L421.900,1018.600 C417.500,1017.500 414.500,1015 412.900,1011.600 C411.500,1008.500 410.900,1005.500 410.900,1002.600Z"/>
<path class="l" d="M427.300,936.500 C428.200,934.300 430,933.300 432.500,932.800 L488.700,924.300 C494,923.500 498.500,923.200 502.800,923.300 C507,924 510.500,926 513.100,928 C515,930 516,932 516.300,934.400 L520.800,1015.400 C520.600,1019 518.500,1022 514.400,1023.800 L421.900,1018.600 M423.500,1016.800 C419,1015.500 416,1013 414.800,1010 C413.500,1007.500 413,1005 413.200,1002.600 L427.300,936.500 M423.500,1016.800 L514,1021.800 C517,1020.500 518.600,1018.500 518.700,1015.400 L514.300,935 C514,931.500 512,929 509,927"/>
<path class="l" d="M437.300,941.500 L492.600,930.600 C496,930.300 500,931 502.800,932.500 C505.500,934 507.800,936 508.600,938.900 L511.200,1009 C511,1012.500 509.500,1015.500 506.700,1016.700 L432.100,1011.600 C428.500,1010.500 425.800,1008.300 424.400,1005.100 C423.300,1003 423,1001 423.100,998.700 L434.700,944.700 C435.300,943 436,942 437.300,941.500Z"/>
<g style="stroke-width:1.250" class="l">
<path d="M490,936.400 L506.700,938.300 L505.400,942.100 L497.700,940.200Z"/>
<path d="M470.700,938.500 L477.100,938 L506.700,946.600 L505.400,949.900 L474.600,940.900Z"/>
<path d="M453.300,942.800 L460.400,941.500 L507.300,955 L506,958.200 L456.600,944.100Z"/>
<path d="M472.600,951.800 L477.100,953.700 L507.300,963.300 L506.700,967.200 L475.800,956.300Z"/>
<path d="M499.600,969.100 L508,972.300 L507.300,975.600Z"/>
<path d="M434.500,957.600 L441.100,958.200 L450.100,965.300 L434.700,961.400Z"/>
<path d="M433.700,964.600 L463,971.700 L467.500,976.800 L433.700,968.500Z"/>
<path d="M432.800,970.400 L483.600,985.200 L488.700,990.300 L432.100,974.300Z"/>
<path d="M432.100,978.800 L500.300,996.800 L506,1001.900 L431.500,982.600Z"/>
<path d="M427,995.500 L478.400,1010.900 L473.300,1012.200 L426.400,999.300Z"/>
<path d="M427,1001.900 L453.300,1009.600 L447.600,1011.500 L425.700,1005.800Z"/>
</g>
<!-- tabs -->
<path class="l" d="M406.400,1030.200 L411.600,1021.800 L427.600,1024.400 L425.100,1032.800Z"/>
<ellipse class="l" cx="416.700" cy="1027.400" rx="4.500" ry="2.300" transform="rotate(8 416.700 1027.400)"/>
<path class="l" d="M424,1025 L425.500,1031.500 L427.600,1024.400"/>
<path class="l" d="M468.100,1039.200 L477.100,1032.800 L495.100,1034.700 L488.700,1042.400Z"/>
<ellipse class="l" cx="479.100" cy="1037.300" rx="4.500" ry="2.300" transform="rotate(8 479.100 1037.300)"/>
<path class="l" d="M486,1034.500 L488,1041.500 L494,1035"/>
<path class="l" d="M506.700,1031.300 L524.300,1046"/>
<!-- screw 20 -->
<path class="l" d="M382.700,1039.100 L402.200,1060.600"/>
<path class="lw" d="M398,1066 L421,1056 C423.500,1055.500 424.500,1057.500 424.700,1059.500 C424.700,1062 424,1063.500 422.500,1064 L402,1073Z"/>
<path class="l" d="M404,1063.500 C402.500,1066 403.500,1069.500 405.500,1071 M408,1062 C406.500,1064.500 407.500,1068 409.500,1069.500 M412,1060.500 C410.500,1063 411.500,1066.500 413.500,1068 M416,1058.500 C414.500,1061 415.500,1064.500 417.500,1066 M420,1057 C418.500,1059.500 419.500,1063 421.500,1064.500"/>
<ellipse class="kw" cx="395.400" cy="1069.400" rx="5.300" ry="7" transform="rotate(-20 395.400 1069.400)"/>
<path class="l" d="M392.500,1066 L398,1072 M398,1066.500 L393,1072.500"/>
<path class="l" d="M428.200,1056.700 L438,1052.800"/>
<path class="l" d="M623.800,892.700 L568.800,914.200 M632,889.500 L637,887.500"/>
</g>
<g id="frame">
<!-- floor / background lines -->
<path class="l" d="M406.100,507.500 L459,543.900 M438.100,510.900 L466.700,529.600"/>
<path class="l" d="M397.700,599 L459,574.800 M357.600,632 L454.600,594.600 M366.400,638.700 L452.400,605.600 M373,644.200 L448,621"/>
<path class="l" d="M344.400,623.200 L368.600,614.400 M346.600,624.300 L357.600,632"/>
<path class="l" d="M481,654.100 L568,623.500 C583,618 596,612.700 612,612 L649,611.700"/>
<path class="l" d="M455.700,679.400 L568,636.500 C583,631 596,625.700 612,625 L644.200,624.200"/>
<path class="l" d="M384.100,709.200 L456.800,691.500 L527.300,662.900 L589.200,648"/>
<path class="k" d="M409,711.500 L457.800,692.600"/>
<path class="l" d="M402.400,706.400 L430,696 L456,686"/>
<path class="l" d="M529.500,534 L549.300,524.100 M530.600,552.700 L575.800,526.300 M520.700,579.200 L598.800,528.200"/>
<path class="l" d="M507.500,580.300 L560.400,621 M514.100,578 L569.200,617.700 M507.500,580.300 C508,577 512,576.500 514.100,578"/>
<path class="l" d="M506.300,620 A12,12 0 0 0 494.300,608"/>
<path class="l" d="M494,633 C501,633 506,627 506.300,620"/>
<ellipse class="l" cx="525.800" cy="617.300" rx="5" ry="3.800"/>
<!-- holes upper right -->
<ellipse class="n" cx="642.300" cy="547.800" rx="9" ry="5.300"/>
<ellipse class="n" cx="608.300" cy="561.400" rx="9" ry="5.300"/>
<ellipse class="n" cx="574.400" cy="571.600" rx="9" ry="5.300"/>
<path class="l" d="M567.800,591.900 L653.700,554.900 M584.500,602.700 L646.600,580 M567.800,591.900 C561,595 561,603 567,605.500 C572,607 578,605 584.500,602.700 M571,593 C566,597 568,602 574,603"/>
<ellipse class="n" cx="590" cy="599.100" rx="5.500" ry="3.800"/>
<ellipse class="n" cx="611.500" cy="590.700" rx="5.500" ry="3.800"/>
<ellipse class="n" cx="631.500" cy="582.900" rx="5.500" ry="3.800"/>
<path class="l" d="M649,571.500 C647,574 651,576 650,579"/>
<!-- post 1 -->
<path class="l" d="M349.900,501 L368.600,617.700 M355.400,501 L372,618.800 M361,502 L374.200,616.600 M368.600,617.700 L374.200,616.600"/>
<path class="l" d="M363.100,523 L373,525.200 L374.200,567 L368.600,568.100"/>
<circle class="b" cx="373" cy="583.600" r="2.600"/>
<!-- post 2 -->
<path class="l" d="M379.700,504.200 L383,607.800 M388.500,505.300 L391.100,611.100 M396.200,506 L397.700,607.800 M383,607.800 C386,612.500 395,612.500 397.700,607.800"/>
<!-- slanted bracket -->
<path fill="#fff" d="M470,514.200 L521.800,519.700 L475.500,671.700 L456.800,678.300 L443.600,671.700Z"/>
<path class="l" d="M470,514.200 L443.600,671.700 M476.200,514.200 L449.100,673.900 M488.100,516.400 L456.800,678.300 M521.800,519.700 L475.500,671.700 M443.600,671.700 L456.800,678.300 L475.500,671.700"/>
<path class="l" d="M492,557 C494,551 498,549.500 505,549.500 L506.500,549.500 L494,588 C490,589.500 484,590 483,588 C482,586 484,580 485,575Z"/>
<path class="l" d="M499,553 L489.500,584 M503.500,551 L493,587"/>
<path class="l" d="M477,613 C479,607 483,605.500 489.500,605.500 L477,644 C474,646 471,646 471.500,641Z"/>
<path class="k" d="M484,609 L473.500,642"/>
<path class="l" d="M487.500,607 L476.500,644"/>
<circle class="b" cx="496" cy="535.800" r="2.600"/>
<circle class="b" cx="505.300" cy="536.900" r="2.600"/>
<ellipse class="l" cx="471.100" cy="660.300" rx="3.300" ry="3.800"/>
<ellipse class="l" cx="460.100" cy="555" rx="2.500" ry="8"/>
<path class="kw" d="M517.400,532.900 L529.500,536.200 L527.300,560.400 L514.100,548.300Z"/>
<path class="b" d="M524,537 L529.500,536.200 L527.300,560.400 L522,556Z"/>
<!-- dots on floor -->
<ellipse class="b" cx="409.400" cy="644.200" rx="3.300" ry="2.300"/>
<ellipse class="b" cx="437" cy="661.800" rx="3.300" ry="2.300"/>
<!-- lower bracket left -->
<path class="lw" d="M226.700,634 L231,629.500 L238,629.500 L265,638 C266,631 271,626 277.300,626 C283,626 287,630 287.500,635 L294,627 L327.800,652 L342.700,666.200 L327.800,688 L277.300,653.500 L265.800,661.600Z"/>
<path class="l" d="M231,632 L266,657 L276,650"/>
<path class="k" d="M247.400,640.900 L255.500,630.600 L265.800,638.600 L257.800,650.100Z"/>
<path class="l" d="M250.500,641.500 L256,634.500 L262,639.500"/>
<circle class="l" cx="277.300" cy="630.600" r="8.500"/>
<circle class="b" cx="276.500" cy="632" r="2.600"/>
<path class="l" d="M270,636 L283,640"/>
<ellipse class="l" cx="312.900" cy="652.400" rx="12" ry="15" transform="rotate(15 312.900 652.400)"/>
<path class="l" d="M305,641 C300,648 301,660 308,666"/>
<path class="k" d="M277.300,653.500 L327.800,688"/>
<path class="l" d="M266.900,666.200 C275,674 293,679 304.800,675.400"/>
<!-- cross bar -->
<path class="lw" d="M206.800,557.500 L211.200,556 C211.200,553 211.700,550.500 212.400,548.600 C213.300,546 214.600,544 216.100,542.400 L242.800,534.300 L246.500,536.200 L244,539.900 L244,547.300 L380.600,652.400 C384,650 387,649.600 389.800,649.600 L417.400,668.500 L411.600,678.800 L394.400,686.800 L387.500,688 L377.200,685.700 L209.900,562.200Z" style="stroke-width:1.200"/>
<path class="k" d="M207.200,556.800 L211.200,556 C211.200,553 211.700,550.500 212.400,548.600 C213.300,546 214.600,544 216.100,542.400 L242.800,534.300 L246.500,536.200"/>
<path class="l" d="M246.500,536.200 L244,539.900 L244,547.300 M216.100,557.900 L242.800,547.900"/>
<path class="k" style="stroke-width:3" d="M212.400,557.900 L378.300,680.500"/>
<path class="l" d="M378.300,681.100 C384,683 390,680 394,676 L400,671 L417.400,668.500 M394,676 L394.400,686.800"/>
<path class="k" d="M377.200,685.700 L387.500,688"/>
<ellipse class="b" cx="237" cy="556.600" rx="3.600" ry="2.300" transform="rotate(15 237 556.600)"/>
<ellipse class="l" cx="259.300" cy="575.200" rx="4.600" ry="3" style="stroke-width:2"/>
<ellipse class="l" cx="368.700" cy="656.500" rx="4.500" ry="3.200"/>
<ellipse class="b" cx="392.100" cy="673.500" rx="3.200" ry="2.200"/>
<path class="l" d="M289.300,608.700 L307.300,603.700 L361.100,645.500 L348.500,650.100 M289.300,608.700 L300.400,615.500 L307.300,603.700 M309,606.500 L352,640"/>
<!-- curve to tube -->
<path class="l" d="M332.400,688 C340,693.500 352,696.500 365,696.500 C376,696.500 384,693 389.800,688"/>
<!-- lower right foot -->
<path class="lw" d="M319.800,704 L328,691.500 L334.700,690.300 L350,699 C365,706 380,708 392,705 L403,708 L408.200,727.200 L405.900,745.600 L398,749 L337,719 L324,708.500Z"/>
<path class="k" d="M324.400,702.900 L334.700,690.300 L346.200,699.500 L337,712.100Z"/>
<path class="l" d="M328.500,703 L335,695 L342.500,701"/>
<path class="l" d="M319.800,704 L324,708.500 L337,719 L396.700,748.900 L404.700,746.600"/>
<path class="l" d="M339.300,713.300 C352,717 370,719.500 380.600,721.300 M341.600,716.700 C352,723 375,735 389.800,739.700 M346,710 C352,713 360,714 366,714"/>
<path class="lw" d="M393.300,705.200 C388,706 384,711 381.500,718 C380,725 381,730 383,734 L401.300,744.300 C406,740 408,733 408.200,727.200 C408,720 405,712 398,707 C396,706 394.500,705.200 393.300,705.200Z"/>
<path class="k" d="M398,707 C405,712 408,720 408.200,727.200 C408,733 406,740 404,745"/>
<circle class="b" cx="393.300" cy="719" r="2.300"/>
<circle class="n" cx="393.300" cy="719" r="3.600"/>
<path class="l" d="M327.800,742 L392.100,723.600"/>
<path class="l" d="M402.400,706.400 L409,704 M407,713.300 L430,705.200 L456,695.500"/>
<!-- right ear bracket -->
<path class="k" d="M542.700,664.800 C543,668 545,670.500 549,671.500 L556,672.400 L591.600,672 L598,668"/>
<path class="lw" d="M577.300,643.300 C577.300,636 581,630 586.800,629 C593,628.500 598,634 599.500,642 C600.500,650 600,660 597.500,669.500 L591.600,672 L589,671 L577.300,657Z"/>
<path class="k" d="M593,630.500 C597.500,634 600,641 600,649 C600,657 599,664 597.500,669.500"/>
<circle class="b" cx="587.600" cy="644" r="2.600"/>
<path class="l" d="M572.500,652.800 L591.600,667.100 M577.300,649.200 L596.400,664.800 M527.200,664.800 L577.300,649.500"/>
<path class="l" d="M529.500,667.300 L551.500,698.200"/>
</g>
<g id="labels" text-anchor="middle" opacity="0.999">
<text x="607.6" y="30.3">1</text>
<text x="717.0" y="174.6">2</text>
<text x="772.4" y="90.0">3</text>
<text x="983.8" y="46.9">4</text>
<text x="1029.0" y="85.6">5</text>
<text x="1106.8" y="142.6">6</text>
<text x="1201.4" y="200.3">7</text>
<text x="1301.9" y="164.6">8</text>
<text x="1259.4" y="243.7">9</text>
<text x="1290.6" y="263.3">10</text>
<text x="1152.9" y="542.8">11</text>
<text x="1165.1" y="625.5">12</text>
<text x="1188.8" y="669.2">13</text>
<text x="1116.3" y="791.1">14</text>
<text x="1149.8" y="852.7">15</text>
<text x="1150.9" y="957.8">16</text>
<text x="983.0" y="915.1">17</text>
<text x="880.8" y="954.2">18</text>
<text x="862.6" y="1024.6">13</text>
<text x="543.8" y="1065.2">19</text>
<text x="372.0" y="1036.6">20</text>
<text x="804.5" y="729.6">21</text>
<text x="337.8" y="911.1">21</text>
<text x="436.5" y="873.0">22</text>
<text x="480.3" y="880.6">23</text>
<text x="844.0" y="759.1">24</text>
<text x="730.1" y="536.6">25</text>
<text x="686.0" y="550.2">26</text>
<text x="205.0" y="764.2">25</text>
<text x="256.0" y="737.2">26</text>
<text x="593.2" y="356.0">27</text>
</g>
<g id="copy" opacity="0.999">
<circle cx="140" cy="276" r="8.6" fill="none" stroke="#000" stroke-width="1.2"/>
<path d="M144.2,273.3 A4.9,5.2 0 1 0 144.2,278.7" fill="none" stroke="#000" stroke-width="1.4"/>
<text x="158.5" y="286" text-anchor="start" style="font-size:26.5px;stroke:#000;stroke-width:0.35px" textLength="232" lengthAdjust="spacingAndGlyphs">2002 Polaris Sales Inc.</text>
</g>

</svg></body></html>
